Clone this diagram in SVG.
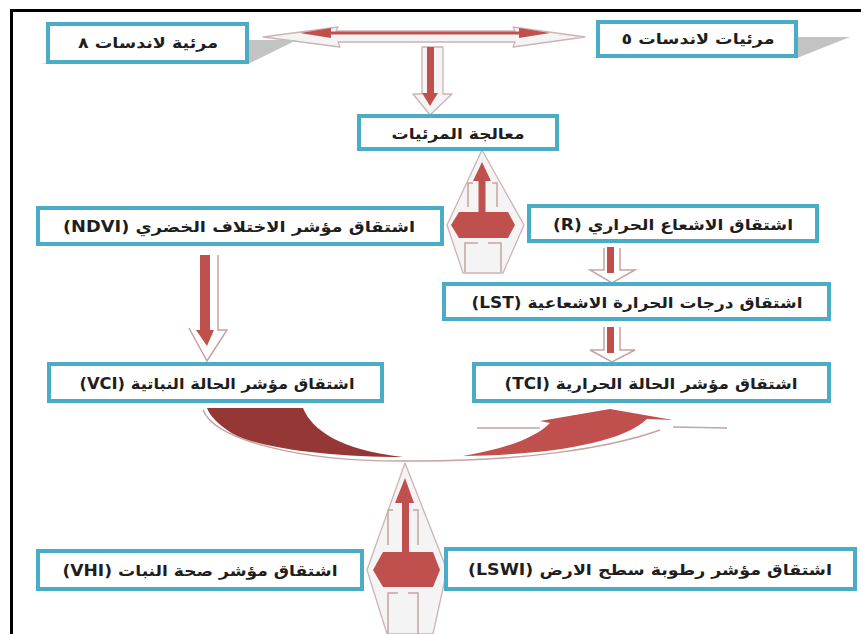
<svg xmlns="http://www.w3.org/2000/svg" width="861" height="634" viewBox="0 0 861 634">
  <style>
    .box { fill: #ffffff; stroke: #4bacc6; stroke-width: 4; }
    .lbl { font-family: "DejaVu Sans", "Noto Sans", sans-serif; font-size: 15px; font-weight: bold; fill: #1e1e1e; text-anchor: middle; direction: rtl; }
    .shade { fill: #c3c3c3; }
    .rim { fill: #f5f4f4; stroke: #cdb3b3; stroke-width: 1.3; stroke-linejoin: round; }
    .rimline { fill: none; stroke: #c6a2a2; stroke-width: 1.5; }
    .red { fill: #c0504d; }
    .dark { fill: #953735; }
  </style>

  <rect width="861" height="634" fill="#ffffff"/>
  <!-- page frame -->
  <path d="M11.5,634 V10.5 H861" fill="none" stroke="#000000" stroke-width="3"/>

  <!-- connectors -->
  <g id="connectors">
    <!-- two-way link between the Landsat scenes -->
    <polygon class="rim" points="263,37 338,27 336,31 515,31 513,27 585,37 513,47 515,42 338,42 340,47"/>
    <rect class="red" x="320" y="31.5" width="210" height="3"/>
    <polygon class="red" points="300,33 331,28 331,38"/>
    <polygon class="red" points="550,33 519,28 519,38"/>

    <!-- down to image processing -->
    <polygon class="rim" points="422,47 443,47 443,94 452,94 430,115 413,94 422,94"/>
    <rect class="red" x="427" y="47" width="7" height="47"/>
    <polygon class="red" points="422,93 438,93 430,106"/>

    <!-- processing feeds both branches -->
    <polygon class="rim" points="482,150 524,225 503,273 463,273 447,225"/>
    <polyline class="rimline" points="473,183 468,183 468,207"/>
    <polyline class="rimline" points="492,183 497,183 497,207"/>
    <polyline class="rimline" points="478,243 465,243 465,272"/>
    <polyline class="rimline" points="488,243 501,243 501,272"/>
    <rect class="red" x="478.5" y="179" width="7" height="34"/>
    <polygon class="red" points="473,181 482,162 491,181"/>
    <polygon class="red" points="451,225 459,212 508,212 515,225 508,238 459,238"/>

    <!-- NDVI to VCI -->
    <polyline class="rimline" points="218,255 218,330 227,330 207,361 189,328"/>
    <rect class="red" x="200" y="255" width="10" height="77"/>
    <polygon class="red" points="196,330 214,330 207,346"/>

    <!-- R to LST -->
    <polyline class="rimline" points="620,248 620,270 635,270 612,283 590,270 604,270 604,248"/>
    <rect class="red" x="607" y="247" width="7" height="26"/>

    <!-- LST to TCI -->
    <polyline class="rimline" points="620,327 620,350 635,350 612,362 590,350 604,350 604,327"/>
    <rect class="red" x="607" y="327" width="7" height="26"/>

    <!-- VCI and TCI merge -->
    <path class="rimline" d="M203,410 C215,440 300,462 407,461 C520,462 610,448 660,430"/>
    <line class="rimline" x1="477" y1="428" x2="540" y2="428"/>
    <line class="rimline" x1="673" y1="427" x2="727" y2="428"/>
    <path class="dark" d="M207,408 L303,408 C312,430 340,450 403,457 C330,457 255,448 230,432 C218,424 210,416 207,408 Z"/>
    <path class="red" d="M463,456 C505,449 535,438 550,423 L540,421 L610,409 L673,420 L647,419 C620,445 540,455 463,456 Z"/>

    <!-- merged result up to VHI / LSWI -->
    <polygon class="rim" points="405,463 447,570 433,634 387,634 367,570"/>
    <polyline class="rimline" points="393,510 388,510 388,545"/>
    <polyline class="rimline" points="413,510 418,510 418,545"/>
    <polyline class="rimline" points="398,593 388,593 388,634"/>
    <polyline class="rimline" points="408,593 418,593 418,634"/>
    <rect class="red" x="402" y="500" width="7" height="54"/>
    <polygon class="red" points="395,503 405,478 414,503"/>
    <polygon class="red" points="373,570 383,552 433,552 440,570 433,587 383,587"/>
  </g>

  <!-- Landsat 8 scene -->
  <g id="landsat8">
    <polygon class="shade" points="40,64 248,64 297,40 248,40"/>
    <rect class="box" x="48" y="24" width="199" height="38"/>
    <text class="lbl" x="148" y="48" textLength="140" lengthAdjust="spacingAndGlyphs">مرئية لاندسات ٨</text>
  </g>

  <!-- Landsat 5 scenes -->
  <g id="landsat5">
    <polygon class="shade" points="590,58 797,58 850,37 797,37"/>
    <rect class="box" x="598" y="22" width="198" height="34"/>
    <text class="lbl" x="698" y="44" textLength="153" lengthAdjust="spacingAndGlyphs">مرئيات لاندسات ٥</text>
  </g>

  <!-- image processing -->
  <g id="processing">
    <rect class="box" x="359" y="116" width="198" height="33"/>
    <text class="lbl" x="458" y="139" textLength="133" lengthAdjust="spacingAndGlyphs">معالجة المرئيات</text>
  </g>

  <!-- NDVI -->
  <g id="ndvi">
    <rect class="box" x="38" y="208" width="404" height="36"/>
    <text class="lbl" x="239" y="232" textLength="352" lengthAdjust="spacingAndGlyphs">اشتقاق مؤشر الاختلاف الخضري (NDVI)</text>
  </g>

  <!-- thermal radiance -->
  <g id="radiance">
    <rect class="box" x="529" y="206" width="288" height="35"/>
    <text class="lbl" x="673" y="230" textLength="240" lengthAdjust="spacingAndGlyphs">اشتقاق الاشعاع الحراري (R)</text>
  </g>

  <!-- LST -->
  <g id="lst">
    <rect class="box" x="444" y="284" width="385" height="35"/>
    <text class="lbl" x="637" y="308" textLength="331" lengthAdjust="spacingAndGlyphs">اشتقاق درجات الحرارة الاشعاعية (LST)</text>
  </g>

  <!-- VCI -->
  <g id="vci">
    <rect class="box" x="49" y="364" width="333" height="37"/>
    <text class="lbl" x="217" y="389" textLength="275" lengthAdjust="spacingAndGlyphs">اشتقاق مؤشر الحالة النباتية (VCI)</text>
  </g>

  <!-- TCI -->
  <g id="tci">
    <rect class="box" x="474" y="364" width="355" height="37"/>
    <text class="lbl" x="651" y="389" textLength="293" lengthAdjust="spacingAndGlyphs">اشتقاق مؤشر الحالة الحرارية (TCI)</text>
  </g>

  <!-- VHI -->
  <g id="vhi">
    <rect class="box" x="38" y="551" width="324" height="38"/>
    <text class="lbl" x="200" y="576" textLength="275" lengthAdjust="spacingAndGlyphs">اشتقاق مؤشر صحة النبات (VHI)</text>
  </g>

  <!-- LSWI -->
  <g id="lswi">
    <rect class="box" x="446" y="549" width="409" height="40"/>
    <text class="lbl" x="650" y="575" textLength="364" lengthAdjust="spacingAndGlyphs">اشتقاق مؤشر رطوبة سطح الارض (LSWI)</text>
  </g>
</svg>
